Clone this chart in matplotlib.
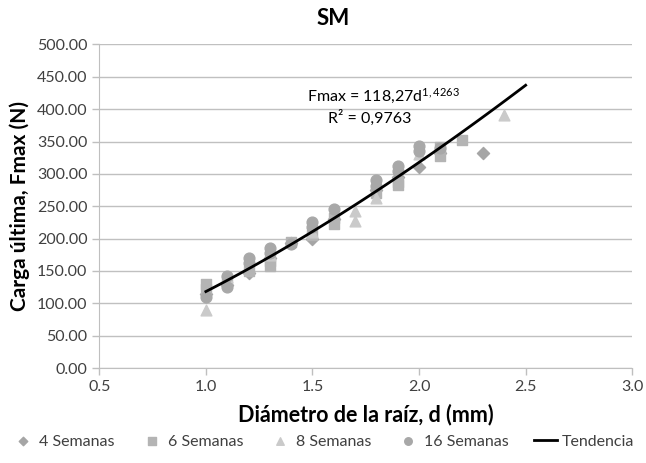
import numpy as np
import matplotlib
matplotlib.use("Agg")
import matplotlib.pyplot as plt

plt.rcParams['font.family'] = ['Lato', 'DejaVu Sans']
plt.rcParams['mathtext.fontset'] = 'custom'
plt.rcParams['mathtext.rm'] = 'Lato'
plt.rcParams['mathtext.it'] = 'Lato'

# datos
d_4sem = [1.0, 1.1, 1.2, 1.3, 1.4, 1.5, 1.6, 1.8, 1.9, 2.0, 2.1, 2.3]
f_4sem = [115, 128, 147, 170, 193, 200, 230, 275, 295, 310, 333, 333]

d_6sem = [1.0, 1.0, 1.1, 1.2, 1.3, 1.3, 1.4, 1.5, 1.6, 1.6, 1.8, 1.9, 1.9, 2.1, 2.1, 2.2]
f_6sem = [130, 122, 135, 150, 158, 165, 195, 205, 222, 232, 270, 283, 288, 328, 342, 352]

d_8sem = [1.0, 1.1, 1.3, 1.5, 1.7, 1.7, 1.8, 2.0, 2.4]
f_8sem = [90, 140, 175, 210, 243, 227, 263, 330, 391]

d_16sem = [1.0, 1.1, 1.1, 1.2, 1.2, 1.3, 1.3, 1.4, 1.5, 1.5, 1.6, 1.8, 1.8, 1.9, 1.9, 2.0, 2.0, 2.1]
f_16sem = [110, 143, 126, 170, 162, 185, 178, 192, 225, 218, 246, 290, 282, 312, 305, 343, 335, 340]

coef_a = 118.27
coef_b = 1.4263
r2 = "0,9763"

fig = plt.figure(figsize=(6.46, 4.63), dpi=100)
ax = fig.add_axes([0.1537, 0.205, 0.825, 0.699])

ax.scatter(d_4sem, f_4sem, marker='D', s=38, color='#a5a5a5', label='4 Semanas', zorder=3)
ax.scatter(d_6sem, f_6sem, marker='s', s=60, color='#b4b4b4', label='6 Semanas', zorder=3)
ax.scatter(d_8sem, f_8sem, marker='^', s=60, color='#cacaca', label='8 Semanas', zorder=3)
ax.scatter(d_16sem, f_16sem, marker='o', s=60, color='#a8a8a8', label='16 Semanas', zorder=3)

dd = np.linspace(1.0, 2.5, 100)
ax.plot(dd, coef_a * dd ** coef_b, color='black', lw=2, label='Tendencia', zorder=4)

ax.set_xlim(0.5, 3.0)
ax.set_ylim(0, 500)
ax.set_xticks(np.arange(0.5, 3.01, 0.5))
ax.set_yticks(np.arange(0, 501, 50))
ax.set_xticklabels(['%.1f' % v for v in np.arange(0.5, 3.01, 0.5)])
ax.set_yticklabels(['%.2f' % v for v in np.arange(0, 501, 50)])
ax.tick_params(labelsize=11.5, colors='#bfbfbf', labelcolor='#404040', length=5, width=1)
ax.grid(axis='y', color='#c0c0c0', lw=1)
ax.set_axisbelow(True)
for s in ['top', 'right']:
    ax.spines[s].set_visible(False)
for s in ['left', 'bottom']:
    ax.spines[s].set_color('#bfbfbf')

ax.set_xlabel('Diámetro de la raíz, d (mm)', fontsize=15.5, fontweight='bold', labelpad=7)
ax.set_ylabel('Carga última, Fmax (N)', fontsize=15, fontweight='bold', labelpad=5)
fig.text(0.516, 0.96, 'SM', fontsize=16, fontweight='bold', ha='center', va='center')

ax.text(1.835, 420, 'Fmax = 118,27d$^{1,4263}$', fontsize=11.5, ha='center', va='center')
ax.text(1.77, 387, 'R² = ' + r2, fontsize=11.5, ha='center', va='center')

fig.legend(loc='lower center', bbox_to_anchor=(0.5, 0.0), ncol=5, frameon=False,
           fontsize=11.5, handlelength=1.4, columnspacing=1.6, handletextpad=0.3,
           markerscale=0.7, labelcolor='#404040')

fig.savefig('out.png', dpi=100)
